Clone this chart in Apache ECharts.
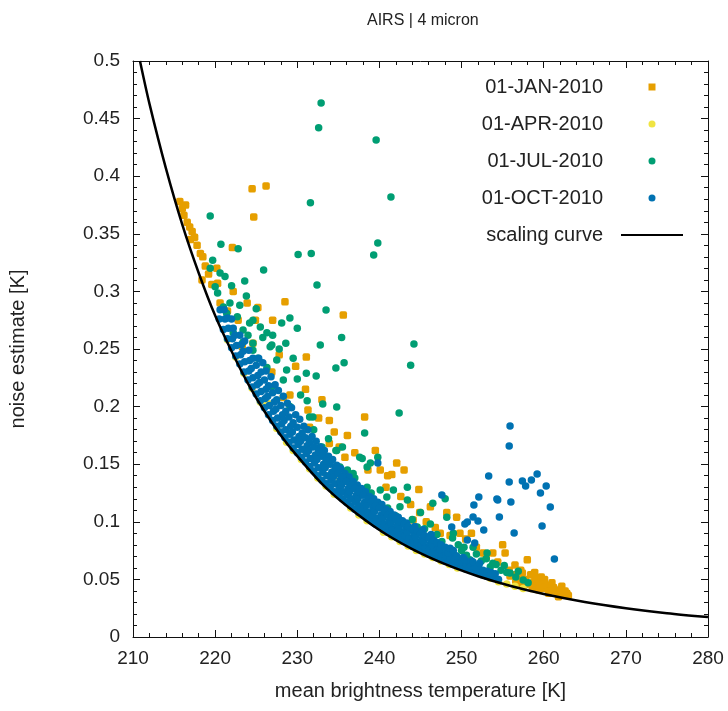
<!DOCTYPE html>
<html><head><meta charset="utf-8">
<script src="https://cdn.jsdelivr.net/npm/echarts@6/dist/echarts.min.js"></script>
<style>html,body{margin:0;padding:0;background:#fff}#c{width:728px;height:711px}</style>
</head><body><div id="c"></div>
<script>
const titleText = 'AIRS | 4 micron';
const xName = 'mean brightness temperature [K]';
const yName = 'noise estimate [K]';
const seriesNames = ['01-JAN-2010', '01-APR-2010', '01-JUL-2010', '01-OCT-2010', 'scaling curve'];
const xRange = [210, 280, 10];
const yRange = [0, 0.5, 0.05];

// scaling curve: [temperature, noise]
const curve = [[210.85,0.5],[212,0.463],[214,0.407],[216,0.358],[218,0.316],[220,0.279],[222,0.248],[224,0.220],[226,0.196],[228,0.175],[230,0.157],[233,0.133],[236,0.114],[240,0.0929],[244,0.0763],[248,0.0632],[252,0.0527],[256,0.0442],[260,0.0373],[265,0.0304],[270,0.0250],[275,0.0207],[280,0.0173]];

const jan = [[215.7,0.378],[216.0,0.372],[216.4,0.375],[216.2,0.366],[216.6,0.360],[216.9,0.356],[217.2,0.352],[217.5,0.347],[217.0,0.345],[217.8,0.340],[218.2,0.333],[218.5,0.330],[218.4,0.310],[218.8,0.322],[219.2,0.315],[219.6,0.306],
[224.5,0.389],[226.2,0.3915],[224.7,0.3646],[222.1,0.338],[228.5,0.291],[235.6,0.2795],[231.1,0.243],
[220.2,0.320],[220.3,0.307],[222.2,0.300],[223.9,0.290],[225.2,0.286],[227.0,0.275],[224.9,0.275],[224.6,0.255],[223.3,0.252],[220.6,0.290],[221.5,0.283],[222.8,0.275],[228.3,0.208],[229.1,0.210],[231.3,0.197],[226.9,0.230],[233.0,0.206],[233.9,0.188],[231.5,0.182],[236.1,0.175],[235.1,0.165],[233.9,0.168],[239.5,0.162],[235.8,0.156],[238.2,0.191],[242.1,0.151],[243.0,0.145],[244.8,0.128],[241.5,0.141],[241.0,0.140],[249.4,0.104],[240.1,0.145],[246.2,0.113],[248.2,0.108],[244.9,0.108],[244.1,0.1016],[247.4,0.090],[249.8,0.090],[253.8,0.073],[255.0,0.080],[255.3,0.073],[258.0,0.067],[258.9,0.056],[256.5,0.0625],[257.4,0.0556],[252.6,0.073],[250.5,0.085],[251.2,0.090],
[227.8,0.245],[229.8,0.235],[231.0,0.215],[232.6,0.190],[234.5,0.178],[237.0,0.160],[238.6,0.145],[240.8,0.130],[242.6,0.122],[243.8,0.115],[245.7,0.100],[246.8,0.095],[248.6,0.088],[251.8,0.078],[253.0,0.069],[254.4,0.065],
[255.8,0.058],[256.3,0.054],[257.0,0.052],[257.8,0.050],[258.3,0.046],[258.8,0.048],[259.2,0.044],[259.6,0.047],[260.0,0.042],[260.4,0.045],[260.8,0.040],[261.2,0.043],[261.6,0.038],[262.0,0.041],[262.4,0.037],[262.8,0.038],[259.0,0.051],[260.1,0.050],[261.0,0.047],[262.2,0.044],[257.2,0.058],[258.4,0.054],[256.6,0.049],[255.9,0.053],[259.7,0.052],[263.0,0.036],[262.6,0.040],[261.8,0.035],[260.6,0.038],[259.4,0.041],[258.6,0.042],[257.6,0.045],[256.8,0.046]];

const apr = [[221.5,0.258],[222.5,0.243],[223.5,0.229],[224.5,0.216],[225.5,0.204],[226.4,0.203],[227.5,0.181],[228.7,0.169],[229.5,0.162],[230.5,0.154],[231.5,0.146],[232.5,0.138],[233.5,0.131],[234.5,0.124],[235.2,0.136],[236.5,0.112],[237.5,0.106],[238.5,0.101],[239.2,0.119],[240.5,0.091],[241.5,0.087],[242.5,0.083],[243.5,0.079],[244.5,0.075],[245.5,0.072],[246.5,0.069],[247.5,0.066],[248.5,0.063],[249.5,0.060],[251.0,0.061],[252.5,0.0556],[253.5,0.051],[254.5,0.048],[255.5,0.046],[256.5,0.044],[257.5,0.042]];

const jul = [[232.9,0.4635],[232.6,0.442],[239.6,0.4315],[241.4,0.382],[231.6,0.377],[219.4,0.3655],[239.8,0.342],[239.3,0.3315],[220.7,0.341],[222.8,0.337],[230.1,0.332],[231.7,0.333],[225.9,0.3186],[223.6,0.309],[232.4,0.3056],[233.5,0.2839],[230.0,0.268],[229.1,0.277],[235.4,0.260],[232.8,0.2535],[244.2,0.2543],[228.6,0.255],[243.8,0.236],[235.7,0.238],[234.7,0.2335],[232.3,0.2266],[231.1,0.229],[230.0,0.224],[242.4,0.1944],[238.2,0.177],[233.1,0.2023],[234.8,0.1997],[231.2,0.205],[231.9,0.191],[233.0,0.165],[239.8,0.156],[234.7,0.162],[237.9,0.155],[238.5,0.1476],[243.4,0.130],[248.0,0.120],
[221.2,0.313],[219.7,0.327],[219.4,0.320],[220.6,0.316],[220.0,0.304],[220.3,0.2986],[221.8,0.290],[223.0,0.288],[221.4,0.281],[222.7,0.278],[224.2,0.2726],[225.5,0.269],[223.4,0.2665],[222.2,0.264],[225.8,0.260],[227.0,0.262],[228.1,0.2726],[224.6,0.255],[226.9,0.2535],[223.4,0.256],[221.0,0.2865],[224.6,0.275],[226.3,0.264],[226.7,0.252],[224.6,0.249],[227.5,0.2405],[226.3,0.234],[228.7,0.2318],[228.3,0.223],[226.9,0.217],[229.1,0.200],[231.5,0.191],[232.8,0.165],[234.8,0.162],[233.6,0.156],[236.1,0.145],[237.6,0.156],[238.9,0.151],[240.1,0.1276],[241.7,0.1276],[243.4,0.119],[246.5,0.116],[248.2,0.104],[249.0,0.090],[251.4,0.078],[253.1,0.073],[253.8,0.064],[244.6,0.0955],[242.5,0.113],[240.9,0.1215],[238.5,0.130],[236.8,0.142],[235.2,0.1476],[234.0,0.1536],
[248.9,0.086],[249.6,0.080],[250.3,0.078],[251.0,0.067],[251.8,0.072],[252.4,0.066],[253.5,0.061],[254.2,0.063],[254.8,0.058],[255.5,0.056],[255.9,0.0556],[256.6,0.052],[257.5,0.0495],[258.1,0.047],[256.9,0.057],[255.2,0.062],[253.0,0.068],[250.6,0.071],
[222.0,0.305],[223.8,0.296],[225.0,0.285],[224.0,0.262],[225.2,0.242],[227.8,0.250],[229.5,0.242],[230.4,0.210],[232.0,0.180],[233.8,0.172],[235.5,0.165],[237.0,0.138],[239.0,0.125],[241.0,0.112],[242.0,0.105],[244.0,0.102],[245.5,0.094],[247.0,0.089],[246.2,0.098],[245.0,0.108],[247.6,0.083],[250.0,0.075]];

const oct = [[255.9,0.1832],[255.8,0.1658],[253.3,0.1398],[259.2,0.1415],[257.4,0.1354],[257.8,0.1311],[258.5,0.1363],[255.8,0.1345],[260.3,0.1311],[259.6,0.125],[252.1,0.1215],[254.3,0.1198],[256.0,0.1172],[260.8,0.1128],[251.5,0.1146],[254.6,0.1042],[251.4,0.1042],[252.0,0.1007],[250.4,0.0981],[259.8,0.0964],[252.7,0.0929],[256.4,0.0903],[261.3,0.0677],[248.8,0.0955],[251.6,0.0816],[247.6,0.1233],[254.4,0.119],[250.7,0.0998],[250.7,0.0842],[239.8,0.151],
[225.3,0.242],[225.8,0.238],[226.2,0.231],[226.8,0.226],[227.3,0.219],[227.7,0.214],[228.3,0.209],[228.8,0.203],[229.3,0.199],[229.8,0.193],[230.3,0.189],[230.8,0.183],[231.3,0.180],[231.8,0.174],[232.3,0.170],[232.8,0.165],[233.3,0.162],[233.8,0.157],[234.3,0.154],[234.8,0.149],[235.3,0.146],[235.8,0.142],[236.3,0.139],[236.8,0.135],[237.3,0.132],[237.8,0.129],[238.3,0.126],[238.8,0.122],[239.3,0.120],[239.8,0.117],[240.3,0.115],[240.8,0.111],[241.3,0.109],[241.8,0.106],[242.3,0.104],[242.8,0.101],[243.3,0.099],[244.3,0.096],[245.3,0.093],[246.3,0.089],
[220.5,0.276],[220.6,0.284],[221,0.267],[221.2,0.276],[221.1,0.284],[221.5,0.259],[221.6,0.268],[221.5,0.277],[222,0.251],[222.1,0.259],[222.2,0.268],[222,0.276],[222.5,0.244],[222.6,0.253],[222.4,0.262],[223,0.237],[223.1,0.245],[223.2,0.254],[223,0.262],[223.5,0.230],[223.6,0.239],[223.4,0.248],[223.6,0.257],[224,0.223],[224.1,0.231],[224.2,0.240],[224.1,0.249],[224.5,0.217],[224.6,0.225],[224.4,0.233],[224.6,0.242],[225,0.211],[225.1,0.219],[225.2,0.227],[225,0.236],[225.5,0.205],[225.6,0.213],[225.4,0.221],[225.6,0.230],[226,0.199],[226.1,0.207],[226.2,0.215],[226,0.223],[226.5,0.193],[226.6,0.201],[226.4,0.209],[226.5,0.218],[227,0.188],[227.1,0.196],[227.2,0.204],[227,0.212],[227.5,0.183],[227.6,0.190],[227.4,0.198],[227.5,0.206],[228,0.178],[228.1,0.185],[228.2,0.193],[228,0.201],[228.5,0.173],[228.6,0.180],[228.4,0.188],[228.6,0.196],[229,0.169],[229.1,0.176],[229.2,0.183],[229,0.191],[229.5,0.164],[229.6,0.171],[229.4,0.178],[229.5,0.186],[230,0.160],[230.1,0.167],[230.2,0.174],[230,0.182],[230.5,0.156],[230.6,0.163],[230.4,0.170],[230.6,0.177],[231,0.152],[231.1,0.159],[231.2,0.166],[231,0.173],[231.5,0.148],[231.6,0.155],[231.4,0.162],[231.5,0.169],[232,0.144],[232.1,0.151],[232.2,0.158],[232,0.165],[232.5,0.140],[232.6,0.147],[232.4,0.154],[232.6,0.161],[233,0.136],[233.1,0.143],[233.2,0.150],[233,0.157],[233.5,0.133],[233.6,0.140],[233.4,0.147],[233.5,0.153],[234,0.130],[234.1,0.136],[234.2,0.143],[234,0.150],[234.5,0.126],[234.6,0.133],[234.4,0.139],[234.6,0.146],[235,0.123],[235.1,0.129],[235.2,0.136],[235,0.142],[235.5,0.120],[235.6,0.126],[235.4,0.132],[235.5,0.139],[236,0.117],[236.1,0.123],[236.2,0.129],[236,0.135],[236.5,0.114],[236.6,0.120],[236.4,0.126],[236.6,0.132],[237,0.111],[237.1,0.117],[237.2,0.123],[237,0.129],[237.5,0.108],[237.6,0.114],[237.4,0.120],[237.5,0.126],[238,0.106],[238.1,0.111],[238.2,0.117],[238,0.123],[238.5,0.103],[238.6,0.108],[238.4,0.114],[238.6,0.120],[239,0.101],[239.1,0.106],[239.2,0.112],[239,0.117],[239.5,0.098],[239.6,0.103],[239.4,0.109],[239.5,0.114],[240,0.096],[240.1,0.101],[240.2,0.106],[240,0.112],[240.5,0.093],[240.6,0.098],[240.4,0.103],[240.6,0.109],[241,0.091],[241.1,0.096],[241.2,0.101],[241,0.106],[241.5,0.089],[241.6,0.094],[241.4,0.099],[241.5,0.104],[242,0.087],[242.1,0.092],[242.2,0.097],[242,0.102],[242.5,0.085],[242.6,0.090],[242.4,0.095],[242.6,0.100],[243,0.083],[243.1,0.088],[243.2,0.093],[243,0.098],[243.5,0.081],[243.6,0.086],[243.4,0.091],[243.5,0.096],[244,0.079],[244.1,0.084],[244.2,0.089],[244,0.094],[244.5,0.077],[244.6,0.082],[244.4,0.087],[244.6,0.092],[245,0.076],[245.1,0.080],[245.2,0.085],[245,0.090],[245.5,0.074],[245.6,0.078],[245.4,0.083],[245.5,0.088],[246,0.072],[246.1,0.076],[246.2,0.081],[246,0.086],[246.5,0.071],[246.6,0.075],[246.4,0.080],[246.6,0.084],[247,0.069],[247.1,0.073],[247.2,0.078],[247,0.082],[247.5,0.068],[247.6,0.072],[247.4,0.076],[247.5,0.080],[248,0.066],[248.1,0.070],[248.2,0.074],[248,0.078],[248.5,0.065],[248.6,0.069],[248.4,0.073],[248.6,0.077],[249,0.063],[249.1,0.067],[249.2,0.071],[249,0.075],[249.5,0.062],[249.6,0.066],[249.4,0.070],[250,0.061],[250.1,0.065],[250.2,0.069],[250.5,0.059],[250.6,0.063],[250.4,0.067],[251,0.058],[251.1,0.062],[251.2,0.066],[251.5,0.057],[251.6,0.061],[251.4,0.065],[252,0.056],[252.1,0.060],[252.2,0.064],[252.5,0.054],[252.6,0.058],[253,0.053],[253.1,0.057],[253.5,0.052],[253.6,0.056],[254,0.051],[254.1,0.055],[254.5,0.050]];

const FONT = 'Liberation Sans, Arial, sans-serif';
const TXT = '#222';
const chart = echarts.init(document.getElementById('c'), null, {renderer: 'canvas'});
const fmt = v => String(parseFloat(Number(v).toFixed(3)));
const baseX = {
  type: 'value', min: xRange[0], max: xRange[1], interval: xRange[2],
  axisLine: {show: true, onZero: false, lineStyle: {color: '#111', width: 1}},
  axisTick: {show: true, inside: true, length: 7, lineStyle: {color: '#111'}},
  minorTick: {show: true, splitNumber: 5, length: 4, lineStyle: {color: '#111'}},
  splitLine: {show: false}, minorSplitLine: {show: false}
};
const baseY = {
  type: 'value', min: yRange[0], max: yRange[1], interval: yRange[2],
  axisLine: {show: true, onZero: false, lineStyle: {color: '#111', width: 1}},
  axisTick: {show: true, inside: true, length: 7, lineStyle: {color: '#111'}},
  minorTick: {show: true, splitNumber: 5, length: 4, lineStyle: {color: '#111'}},
  splitLine: {show: false}, minorSplitLine: {show: false}
};
const sc = (name, data, color, symbol) => ({
  name, type: 'scatter', data, symbol, symbolSize: 7.5, symbolKeepAspect: true,
  itemStyle: {color, opacity: 1}, xAxisIndex: 0, yAxisIndex: 0, animation: false
});
chart.setOption({
  animation: false,
  backgroundColor: '#fff',
  title: {text: titleText, left: 362, top: 8, textStyle: {fontFamily: FONT, fontSize: 16, fontWeight: 'normal', color: TXT}},
  grid: {left: 133, right: 20, top: 61, bottom: 74, containLabel: false, outerBoundsMode: 'none'},
  legend: {
    orient: 'vertical', align: 'right', right: 44, top: 77, padding: 0,
    itemWidth: 62, itemHeight: 7, itemGap: 17, symbolKeepAspect: true,
    data: [
      {name: seriesNames[0], icon: 'path://M0,0L10,0L10,10L0,10Z'},
      {name: seriesNames[1], icon: 'circle'},
      {name: seriesNames[2], icon: 'circle'},
      {name: seriesNames[3], icon: 'circle'},
      {name: seriesNames[4], itemStyle: {color: 'rgba(0,0,0,0)', opacity: 0, borderWidth: 0}}
    ],
    textStyle: {fontFamily: FONT, fontSize: 20, color: TXT, lineHeight: 20, padding: [0, 13, 0, 0]}
  },
  xAxis: [
    Object.assign({}, baseX, {position: 'bottom', name: xName, nameLocation: 'middle', nameGap: 44,
      nameTextStyle: {fontFamily: FONT, fontSize: 20, color: TXT},
      axisLabel: {fontFamily: FONT, fontSize: 19, color: TXT, margin: 12}}),
    Object.assign({}, baseX, {position: 'top', axisLabel: {show: false}})
  ],
  yAxis: [
    Object.assign({}, baseY, {position: 'left', name: yName, nameLocation: 'middle', nameGap: 105,
      nameTextStyle: {fontFamily: FONT, fontSize: 20, color: TXT},
      axisLabel: {fontFamily: FONT, fontSize: 19, color: TXT, margin: 13, formatter: fmt}}),
    Object.assign({}, baseY, {position: 'right', axisLabel: {show: false}})
  ],
  series: [
    sc(seriesNames[0], jan, '#E69F00', 'roundRect'),
    sc(seriesNames[1], apr, '#F0E442', 'circle'),
    sc(seriesNames[2], jul, '#009E73', 'circle'),
    sc(seriesNames[3], oct, '#0072B2', 'circle'),
    {name: seriesNames[4], type: 'line', data: curve, smooth: 0.3, symbol: 'none', showSymbol: false,
      lineStyle: {color: '#000', width: 2.5}, itemStyle: {color: '#000'}, z: 5, clip: true, animation: false}
  ]
});
</script></body></html>
